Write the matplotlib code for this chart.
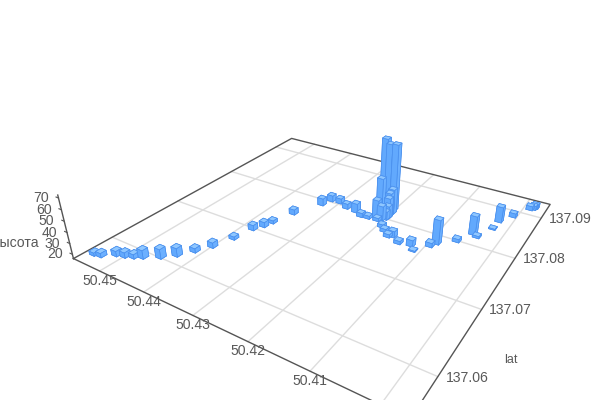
import numpy as np
import matplotlib
matplotlib.use('Agg')
import matplotlib.pyplot as plt
from mpl_toolkits.mplot3d import proj3d

plt.rcParams['font.family'] = ['Liberation Sans', 'DejaVu Sans']

lat = [137.0568,137.0570,137.0580,137.0583,137.0587,137.0592,137.0602,137.0614,137.0630,137.0647,137.0672,137.0699,137.0711,137.0723,137.0753,137.0790,137.0805,137.0806,137.0799,137.0797,137.0791,137.0792,137.0835,137.0829,137.0826,137.0812,137.0798,137.0818,137.0812,137.0807,137.0797,137.0805,137.0801,137.0793,137.0783,137.0776,137.0771,137.0768,137.0762,137.0765,137.0757,137.0775,137.0784,137.0800,137.0824,137.0820,137.0847,137.0867,137.0887,137.0918,137.0922,137.0915]
lon = [50.4547,50.4534,50.4515,50.4500,50.4486,50.4473,50.4449,50.4431,50.4415,50.4400,50.4387,50.4379,50.4369,50.4364,50.4351,50.4326,50.4319,50.4301,50.4280,50.4258,50.4242,50.4228,50.4231,50.4217,50.4203,50.4219,50.4215,50.4200,50.4201,50.4199,50.4205,50.4199,50.4200,50.4210,50.4192,50.4181,50.4161,50.4168,50.4143,50.4122,50.4112,50.4094,50.4088,50.4062,50.4047,50.4038,50.4024,50.4023,50.4007,50.3984,50.3982,50.3989]
height = [19,20,21,21,20,24,25,24,20,21,19,21,21,19,21,23,22,21,21,25,20,19,80,78,80,50,34,40,38,35,30,28,24,19,19,19,22,19,19,22,17,20,39,19,34,18,17,31,20,20,20,20]
lon_ticks = [50.40, 50.41, 50.42, 50.43, 50.44, 50.45]
lat_ticks = [137.06, 137.07, 137.08, 137.09]
z_ticks = [20, 30, 40, 50, 60, 70]

lat_lim = (137.05498, 137.09394)
lon_lim = (50.39617, 50.45645)
z_lim = (16, 72.5)

fig = plt.figure(figsize=(6, 4), dpi=100)
# camera fitted to the floor corners of the reference
ax = fig.add_axes([79.37 / 600, -50.97 / 400, 488.30 / 600, 488.30 / 400], projection='3d')
ax.set_xlim(*lat_lim, view_margin=0)
ax.set_ylim(*lon_lim, view_margin=0)
ax.set_zlim(*z_lim, view_margin=0)
ax.view_init(elev=28.402, azim=-147.366)
ax.set_proj_type('persp', focal_length=0.22481)
ax.set_box_aspect((1, 1.00052, 0.19343))
ax.set_axis_off()
ax.patch.set_alpha(0)
ax.computed_zorder = False

grid_c = '#dddddd'
line_c = '#555555'
text_c = '#595959'
floor = z_lim[0]
for t in lat_ticks:
    ax.plot([t, t], lon_lim, [floor] * 2, color=grid_c, lw=1, zorder=1, clip_on=False)
for t in lon_ticks:
    ax.plot(lat_lim, [t, t], [floor] * 2, color=grid_c, lw=1, zorder=1, clip_on=False)
ax.plot([lat_lim[0], lat_lim[1], lat_lim[1], lat_lim[0], lat_lim[0]],
        [lon_lim[1], lon_lim[1], lon_lim[0], lon_lim[0], lon_lim[1]],
        [floor] * 5, color=line_c, lw=1, zorder=2, clip_on=False)
ax.plot([lat_lim[0]] * 2, [lon_lim[1]] * 2, z_lim, color=line_c, lw=1, zorder=2, clip_on=False)
for t in z_ticks:
    ax.plot([lat_lim[0]] * 2, [lon_lim[1], lon_lim[1] + 0.0006], [t, t], color=line_c, lw=0.8, zorder=2, clip_on=False)

M = ax.get_proj()

# one collection per bar, far ones first, so tall bars do not cover the ones in front
dx = 0.00076
dy = 0.00118
face_colors = ['#6cb0ff', '#8fc7ff', '#6cb0ff', '#6cb0ff', '#62a9fd', '#62a9fd']
_, _, depth = proj3d.proj_transform(np.array(lat), np.array(lon), np.full(len(lat), floor), M)
for rank, i in enumerate(np.argsort(-depth)):
    bar = ax.bar3d(lat[i] - dx / 2, lon[i] - dy / 2, floor, dx, dy, height[i] - floor,
                   color=face_colors, edgecolor='#4a90ee', linewidth=0.5, shade=False, zorder=3 + rank)
    bar.set_clip_on(False)

def label(txt, a, b, c, ox, oy, **kw):
    xx, yy, _ = proj3d.proj_transform(a, b, c, M)
    ax.annotate(txt, (xx, yy), xytext=(ox * .72, oy * .72), textcoords='offset points', color=text_c,
                fontsize=10.08, va='center', annotation_clip=False, **kw)

for t in lon_ticks:
    label('%.2f' % t, lat_lim[0], t, floor, 0, -9.5, ha='center')
for t in lat_ticks:
    label('%.2f' % t, t, lon_lim[0], floor, 29, -1, ha='center')
for t in z_ticks:
    label('%d' % t, lat_lim[0], lon_lim[1], t, -10, 0, ha='right')
fig.text(39 / 600, 1 - 243 / 400, 'высота', color=text_c, fontsize=10.08, ha='right', va='center')
fig.text(511 / 600, 1 - 360 / 400, 'lat', color=text_c, fontsize=9, ha='center', va='center')

fig.savefig('out.png', dpi=100)
